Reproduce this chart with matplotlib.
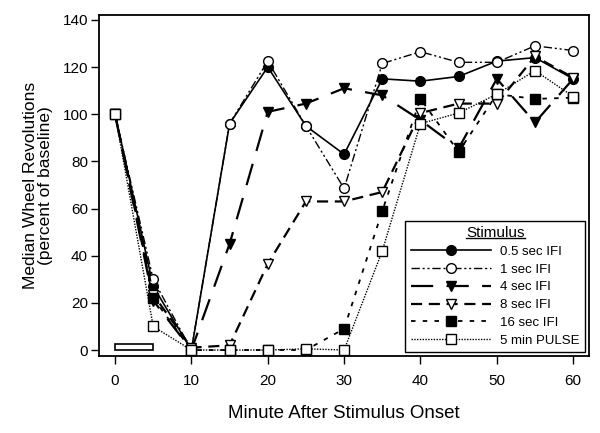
import matplotlib
matplotlib.use("Agg")
import matplotlib.pyplot as plt
from matplotlib.patches import Rectangle
from matplotlib.lines import Line2D

plt.rcParams['font.family'] = ['Liberation Sans', 'DejaVu Sans']

##### DATA
minutes = [0, 5, 10, 15, 20, 25, 30, 35, 40, 45, 50, 55, 60]

ifi_05 = [100, 27, 0, 96, 120, 95, 83, 115, 114, 116, 122.5, 124, 115]
ifi_1 = [100, 30, 0, 96, 122.5, 95, 68.5, 121.5, 126.5, 122, 122, 129, 127]
ifi_4 = [100, 21, 0, 45, 101, 104.5, 111, 108, 97.5, 85.5, 115, 96.5, 115]
ifi_8 = [100, 23.5, 1, 2, 36.5, 63, 63, 67, 100.5, 104.5, 104.5, 124.5, 115.5]
ifi_16 = [100, 22, 0, 0, 0, 0, 9, 59, 106.5, 84, 108.5, 106.5, 107]
pulse_5min = [100, 10, 0, 0, 0, 0.5, 0, 42, 96, 100.5, 108.5, 118.5, 107.5]

labels = ['0.5 sec IFI', '1 sec IFI', '4 sec IFI', '8 sec IFI', '16 sec IFI', '5 min PULSE']

# stimulus bar (minutes 0-5)
stim_start, stim_end, stim_height = 0, 5, 2.5

##### PLOTTING
fig, ax = plt.subplots(figsize=(6.0, 4.33), dpi=100)
fig.subplots_adjust(left=0.165, right=0.982, top=0.965, bottom=0.178)

ax.plot(minutes, ifi_05, '-', color='black', lw=1.2, marker='o', ms=7,
        mfc='black', mec='black', label=labels[0])
ax.plot(minutes, ifi_1, color='black', lw=1.0, dashes=(6, 2, 1.5, 2, 1.5, 2),
        marker='o', ms=7, mfc='white', mec='black', label=labels[1])
ax.plot(minutes, ifi_4, color='black', lw=1.6, dashes=(10, 6),
        marker='v', ms=7.5, mfc='black', mec='black', label=labels[2])
ax.plot(minutes, ifi_8, color='black', lw=1.6, dashes=(5, 3),
        marker='v', ms=7.5, mfc='white', mec='black', label=labels[3])
ax.plot(minutes, ifi_16, color='black', lw=1.3, dashes=(2.5, 4),
        marker='s', ms=6.5, mfc='black', mec='black', label=labels[4])
ax.plot(minutes, pulse_5min, color='black', lw=1.0, dashes=(1, 1),
        marker='s', ms=6.5, mfc='white', mec='black', label=labels[5])

ax.add_patch(Rectangle((stim_start, 0), stim_end - stim_start, stim_height,
                       fill=False, edgecolor='black', lw=1.2, zorder=1))

ax.set_xlim(-2.1, 62.1)
ax.set_ylim(-2.5, 142)
ax.set_xticks(range(0, 61, 10))
ax.set_yticks(range(0, 141, 20))
ax.tick_params(direction='out', length=5.5, width=1, labelsize=11)
ax.tick_params(axis='x', pad=7.5)
ax.tick_params(axis='y', pad=2.5)
for s in ax.spines.values():
    s.set_linewidth(1.3)

ax.set_xlabel("Minute After Stimulus Onset", fontsize=13.5, labelpad=12)
ax.set_ylabel("Median Wheel Revolutions\n(percent of baseline)", fontsize=12.5,
              labelpad=7, linespacing=1.0)

leg = ax.legend(loc='lower right', bbox_to_anchor=(1.0, 0.0), fontsize=9.5,
                title="Stimulus", title_fontsize=11,
                handlelength=6.1, handletextpad=0.7, labelspacing=0.42,
                borderpad=0.4, borderaxespad=0.3, fancybox=False,
                edgecolor='black', framealpha=1)
leg.get_frame().set_linewidth(1.0)

# underline the legend title
fig.canvas.draw()
bb = leg.get_title().get_window_extent().transformed(fig.transFigure.inverted())
fig.add_artist(Line2D([bb.x0, bb.x1], [bb.y0 + 0.004, bb.y0 + 0.004],
                      transform=fig.transFigure, color='black', lw=1.0))

plt.savefig("out.png", dpi=100)
